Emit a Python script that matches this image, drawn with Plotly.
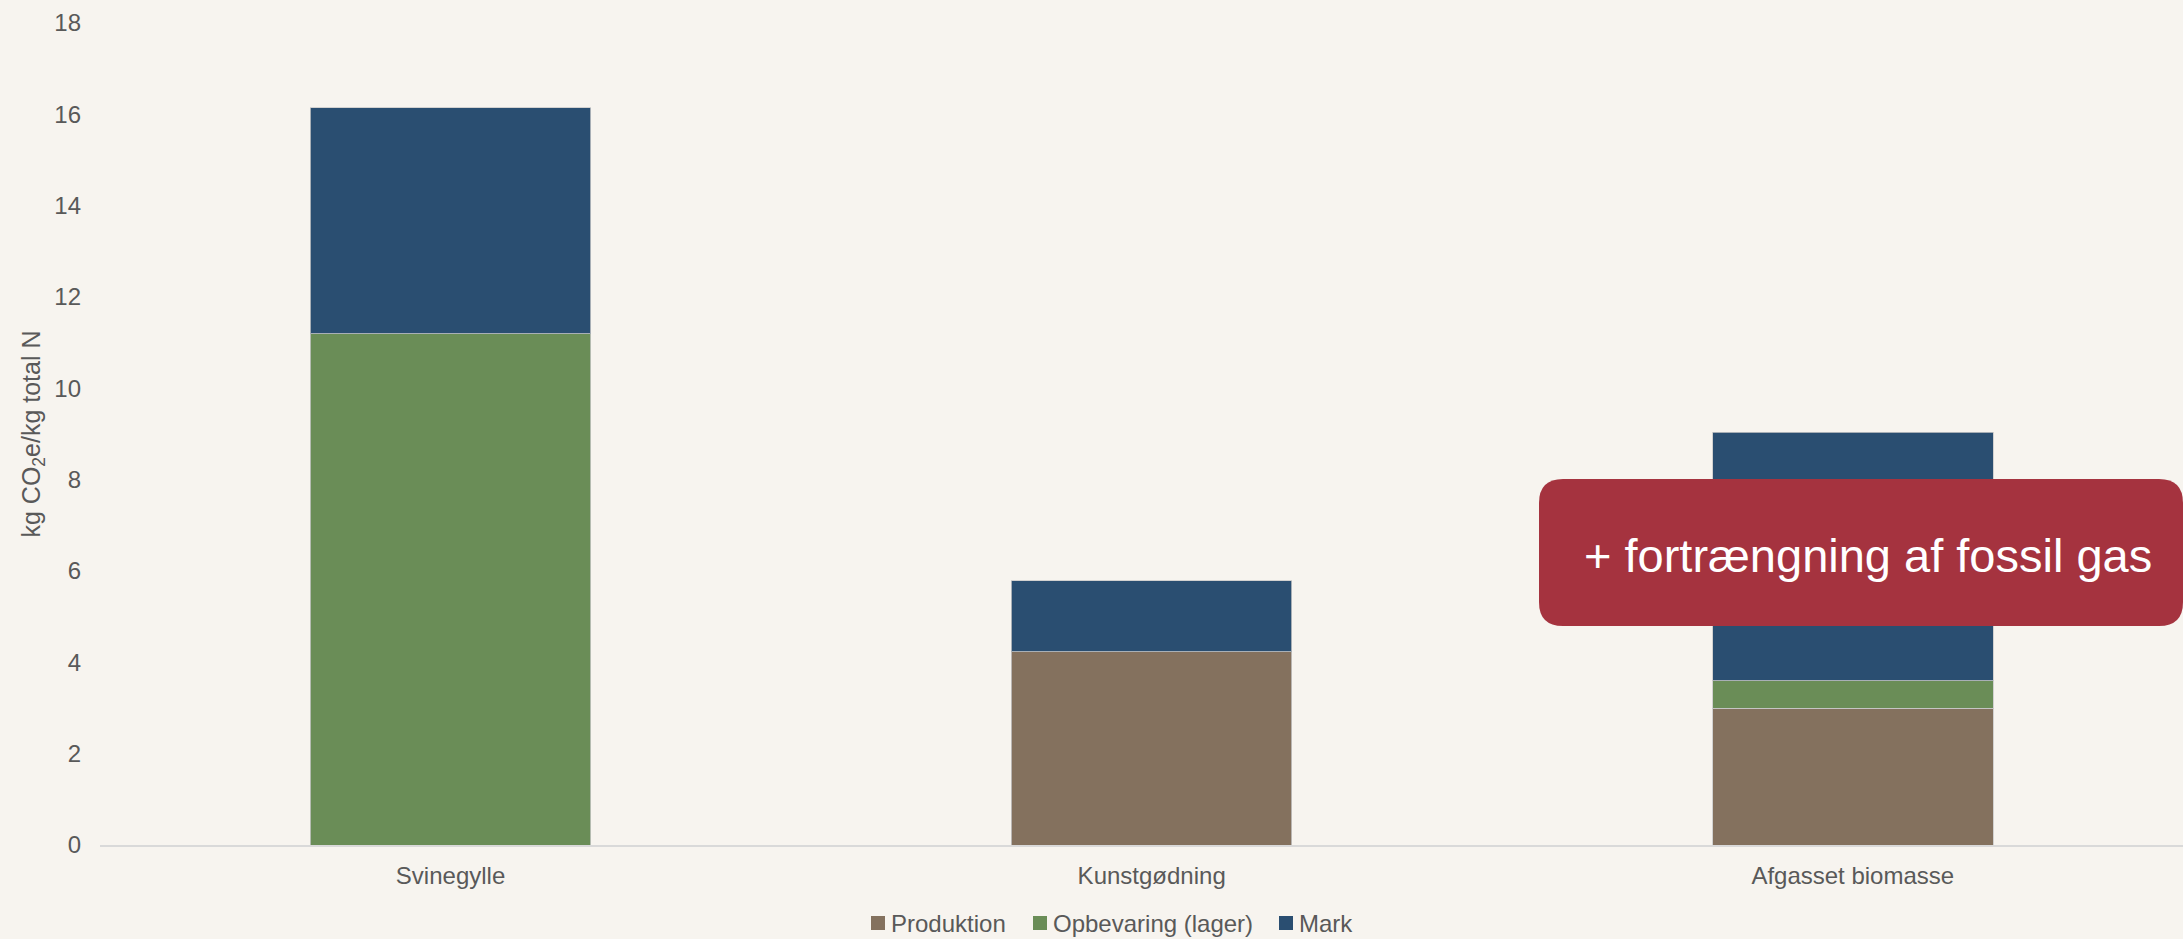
import plotly.graph_objects as go

# ==============================
# Data
# ==============================
categories = ['Svinegylle', 'Kunstgødning', 'Afgasset biomasse']
produktion = [0, 4.23, 3.0]
opbevaring = [11.2, 0, 0.6]
mark = [4.94, 1.56, 5.44]

series_names = ['Produktion', 'Opbevaring (lager)', 'Mark']
colors = {'Produktion': '#84715E', 'Opbevaring (lager)': '#6A8D57', 'Mark': '#2A4E71'}
bg = '#F7F4EF'
font_family = 'Liberation Sans, Arial, sans-serif'

fig = go.Figure()
for name, vals in zip(series_names, [produktion, opbevaring, mark]):
    fig.add_trace(go.Bar(
        x=categories, y=vals, name=name, showlegend=False,
        marker=dict(color=colors[name], line=dict(color='rgba(200,200,200,0.8)', width=1)),
    ))

# plot area: 100..2183 px wide, 23..845 px tall
plot_w, plot_h = 2083, 822
px = lambda v: (v - 100) / plot_w
py = lambda v: (845 - v) / plot_h

fig.update_layout(
    width=2183, height=939,
    barmode='stack', bargap=0.6,
    paper_bgcolor=bg, plot_bgcolor=bg,
    margin=dict(l=100, r=0, t=23, b=94),
    font=dict(family=font_family, size=24, color='#595959'),
)
fig.update_xaxes(range=[-0.5, 2.471], showline=True, linecolor='#D9D9D9', linewidth=2,
                 showgrid=False, zeroline=False, ticks='', ticklabelstandoff=8, automargin=False,
                 tickfont=dict(size=24, color='#595959'))
fig.update_yaxes(range=[0, 18], dtick=2, showgrid=False, zeroline=False, showline=False,
                 ticks='', ticklabelstandoff=18, automargin=False, tickfont=dict(size=24, color='#595959'),
                 title=dict(text='kg CO<sub>2</sub>e/kg total N', font=dict(size=25, color='#595959'),
                            standoff=6))

# Legend (drawn by hand: bigger square swatches like the original)
legend_x = [871, 1033, 1279]
for name, lx in zip(series_names, legend_x):
    fig.add_shape(type='rect', xref='paper', yref='paper',
                  x0=px(lx), x1=px(lx + 14), y0=py(930), y1=py(916),
                  fillcolor=colors[name], line=dict(width=0))
    fig.add_annotation(text=name, xref='paper', yref='paper', x=px(lx + 18), y=py(923),
                       xanchor='left', yanchor='middle', showarrow=False,
                       font=dict(family=font_family, size=24, color='#595959'))

# Rounded red box
x0, x1 = px(1539), 1.0
y0, y1 = py(626), py(479)
rx, ry = 24 / plot_w, 24 / plot_h
path = (f'M {x0+rx},{y0} L {x1-rx},{y0} Q {x1},{y0} {x1},{y0+ry} '
        f'L {x1},{y1-ry} Q {x1},{y1} {x1-rx},{y1} L {x0+rx},{y1} Q {x0},{y1} {x0},{y1-ry} '
        f'L {x0},{y0+ry} Q {x0},{y0} {x0+rx},{y0} Z')
fig.add_shape(type='path', path=path, xref='paper', yref='paper',
              fillcolor='#A5333F', line=dict(width=0), layer='above')
fig.add_annotation(text='+ fortrængning af fossil gas', xref='paper', yref='paper',
                   x=px(1868), y=py(555),
                   xanchor='center', yanchor='middle', showarrow=False,
                   font=dict(family=font_family, size=47, color='white'))

fig.write_html('out.html', config={'displayModeBar': False},
               post_script="document.body.style.margin='0';")
